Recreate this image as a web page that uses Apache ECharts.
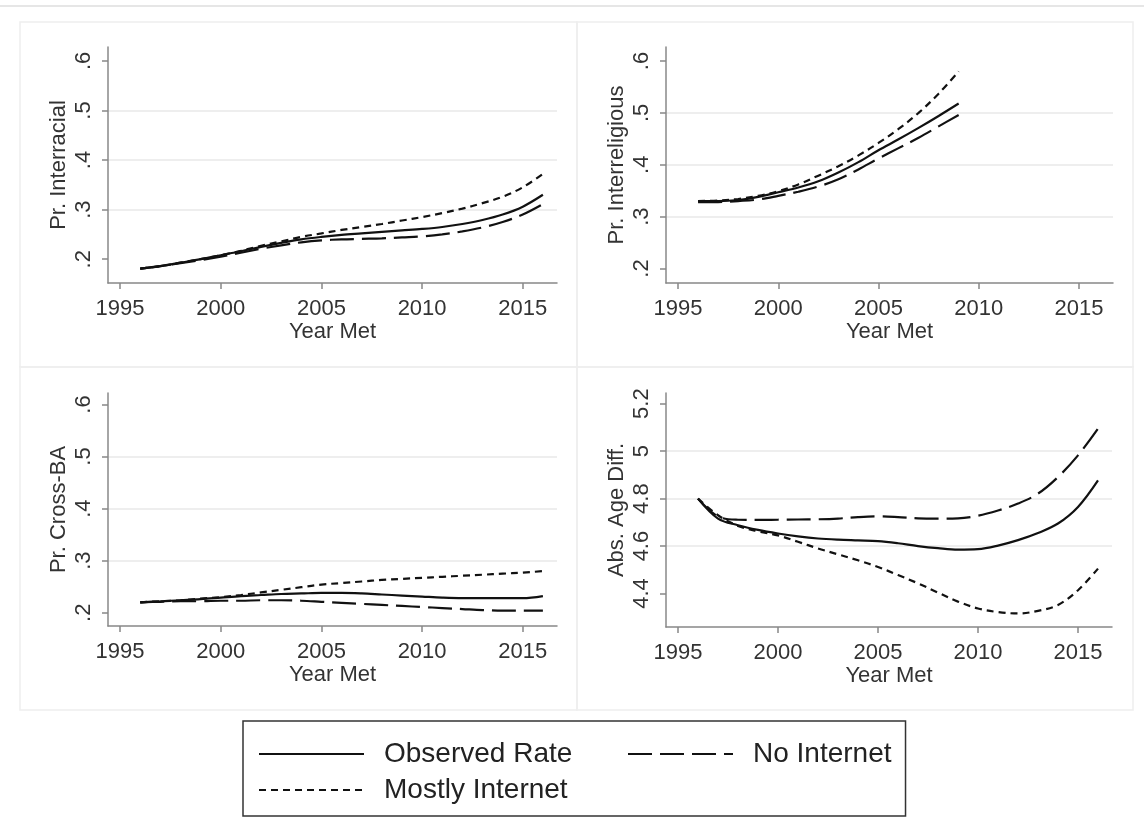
<!DOCTYPE html>
<html>
<head>
<meta charset="utf-8">
<script src="https://cdn.jsdelivr.net/npm/echarts@6/dist/echarts.min.js"></script>
<style>
  html, body { margin: 0; background: #fff; }
  #chart { width: 1144px; height: 840px; }
</style>
</head>
<body>
<div id="chart"></div>
<script>
// years met
const years = [1996, 1997, 1998, 1999, 2000, 2001, 2002, 2003, 2004, 2005, 2006,
  2007, 2008, 2009, 2010, 2011, 2012, 2013, 2014, 2015, 2016]
const relYears = [1996, 1997, 1998, 1999, 2000, 2001, 2002, 2003, 2004, 2005, 2006, 2007, 2008, 2009]

// tick labels
const xTicks = [1995, 2000, 2005, 2010, 2015]
const rateTicks = [0.2, 0.3, 0.4, 0.5, 0.6]
const ageTicks = [4.4, 4.6, 4.8, 5, 5.2]

// Pr. Interracial
const raceObs = [0.181, 0.186, 0.193, 0.200, 0.208, 0.216, 0.225, 0.233, 0.240, 0.245, 0.249,
  0.252, 0.255, 0.258, 0.261, 0.265, 0.271, 0.279, 0.290, 0.306, 0.330]
const raceNoNet = [0.181, 0.186, 0.192, 0.198, 0.205, 0.213, 0.221, 0.228, 0.234, 0.238, 0.240,
  0.241, 0.242, 0.244, 0.246, 0.250, 0.256, 0.264, 0.275, 0.290, 0.311]
const raceMostNet = [0.181, 0.186, 0.193, 0.200, 0.208, 0.217, 0.227, 0.236, 0.245, 0.252, 0.259,
  0.265, 0.271, 0.278, 0.285, 0.293, 0.302, 0.313, 0.326, 0.345, 0.372]

// Pr. Interreligious
const relObs = [0.330, 0.330, 0.332, 0.338, 0.347, 0.356, 0.368, 0.385, 0.405, 0.428, 0.449, 0.471, 0.494, 0.518]
const relNoNet = [0.328, 0.328, 0.330, 0.333, 0.340, 0.348, 0.358, 0.372, 0.391, 0.412, 0.432, 0.452, 0.474, 0.496]
const relMostNet = [0.330, 0.331, 0.334, 0.340, 0.349, 0.362, 0.379, 0.397, 0.418, 0.442, 0.469, 0.500, 0.537, 0.580]

// Pr. Cross-BA
const baObs = [0.220, 0.222, 0.224, 0.226, 0.229, 0.232, 0.234, 0.236, 0.237, 0.238, 0.238,
  0.237, 0.235, 0.233, 0.231, 0.229, 0.228, 0.228, 0.228, 0.228, 0.232]
const baNoNet = [0.220, 0.221, 0.222, 0.222, 0.223, 0.223, 0.224, 0.224, 0.223, 0.221, 0.219,
  0.217, 0.215, 0.213, 0.211, 0.209, 0.207, 0.205, 0.204, 0.204, 0.204]
const baMostNet = [0.220, 0.222, 0.224, 0.227, 0.230, 0.234, 0.239, 0.244, 0.249, 0.254, 0.257,
  0.260, 0.263, 0.265, 0.267, 0.269, 0.271, 0.273, 0.275, 0.277, 0.280]

// Abs. Age Diff.
const ageObs = [4.800, 4.716, 4.688, 4.668, 4.653, 4.641, 4.632, 4.627, 4.624, 4.621, 4.612,
  4.600, 4.591, 4.585, 4.587, 4.602, 4.625, 4.655, 4.695, 4.765, 4.877]
const ageNoNet = [4.800, 4.725, 4.711, 4.710, 4.711, 4.712, 4.713, 4.716, 4.722, 4.725, 4.722,
  4.717, 4.716, 4.717, 4.728, 4.750, 4.779, 4.821, 4.891, 4.982, 5.095]
const ageMostNet = [4.800, 4.730, 4.685, 4.662, 4.645, 4.618, 4.590, 4.565, 4.540, 4.512, 4.478,
  4.443, 4.404, 4.366, 4.337, 4.322, 4.316, 4.327, 4.352, 4.414, 4.505]

const font = 'Liberation Sans'
const ink = '#111'
const styles = {
  'Observed Rate': 'solid',
  'No Internet': [24, 8],
  'Mostly Internet': [7, 5]
}

const panels = [
  { box: { left: 108, top: 47, width: 449, height: 236 }, min: 0.152, max: 0.628, ticks: rateTicks,
    title: 'Pr. Interracial', x: years, lines: [raceObs, raceNoNet, raceMostNet] },
  { box: { left: 666, top: 47, width: 447, height: 236 }, min: 0.172, max: 0.627, ticks: rateTicks,
    title: 'Pr. Interreligious', x: relYears, lines: [relObs, relNoNet, relMostNet] },
  { box: { left: 108, top: 393, width: 449, height: 233 }, min: 0.1745, max: 0.622, ticks: rateTicks,
    title: 'Pr. Cross-BA', x: years, lines: [baObs, baNoNet, baMostNet] },
  { box: { left: 666, top: 393, width: 446, height: 234 }, min: 4.259, max: 5.245, ticks: ageTicks,
    title: 'Abs. Age Diff.', x: years, lines: [ageObs, ageNoNet, ageMostNet] }
]
const names = ['Observed Rate', 'No Internet', 'Mostly Internet']

const grid = []
const xAxis = []
const yAxis = []
const series = []

panels.forEach((p, i) => {
  grid.push(p.box)
  xAxis.push({
    gridIndex: i,
    type: 'value',
    min: 1994.4,
    max: 2016.7,
    axisLine: { onZero: false, lineStyle: { color: '#888', width: 1.5 } },
    axisTick: { length: 6, customValues: xTicks, lineStyle: { color: '#888', width: 1.5 } },
    axisLabel: {
      customValues: xTicks,
      formatter: v => String(v),
      margin: 15,
      fontFamily: font,
      fontSize: 22,
      color: '#333'
    },
    splitLine: { show: false },
    name: 'Year Met',
    nameLocation: 'middle',
    nameGap: 37,
    nameTextStyle: { fontFamily: font, fontSize: 22, color: '#333' }
  })
  yAxis.push({
    gridIndex: i,
    type: 'value',
    min: p.min,
    max: p.max,
    axisLine: { show: true, onZero: false, lineStyle: { color: '#888', width: 1.5 } },
    axisTick: { show: true, length: 6, customValues: p.ticks, lineStyle: { color: '#888', width: 1.5 } },
    axisLabel: {
      customValues: p.ticks,
      rotate: 90,
      margin: 13,
      formatter: v => String(v).replace(/^0\./, '.'),
      fontFamily: font,
      fontSize: 22,
      color: '#333'
    },
    splitLine: {
      show: true,
      showMinLine: false,
      showMaxLine: false,
      lineStyle: { color: '#e8e8e8', width: 1.5 }
    },
    name: p.title,
    nameLocation: 'middle',
    nameRotate: 90,
    nameGap: 38,
    nameTextStyle: { fontFamily: font, fontSize: 22, color: '#333' }
  })
  p.lines.forEach((vals, k) => {
    series.push({
      name: names[k],
      type: 'line',
      xAxisIndex: i,
      yAxisIndex: i,
      symbol: 'none',
      smooth: 0.35,
      silent: true,
      data: vals.map((v, j) => [p.x[j], v]),
      itemStyle: { color: ink },
      lineStyle: { color: ink, width: 2.2, type: styles[names[k]] }
    })
  })
})

const chart = echarts.init(document.getElementById('chart'))
chart.setOption({
  animation: false,
  backgroundColor: '#fff',
  grid,
  xAxis,
  yAxis,
  series,
  legend: {
    left: 243,
    top: 721,
    width: 700,
    orient: 'horizontal',
    selectedMode: false,
    padding: [19, 14, 12, 15],
    borderColor: '#333',
    borderWidth: 1.5,
    itemWidth: 105,
    itemHeight: 14,
    itemGap: 8,
    itemStyle: { opacity: 0 },
    textStyle: { fontFamily: font, fontSize: 28, color: '#222', lineHeight: 24, padding: [0, 0, 0, 15] },
    data: [
      { name: 'Observed Rate', textStyle: { width: 235 } },
      { name: 'No Internet' },
      { name: 'Mostly Internet' }
    ]
  },
  graphic: [
    { type: 'line', shape: { x1: 0, y1: 6, x2: 1144, y2: 6 }, style: { stroke: '#e6e6e6', lineWidth: 2 } },
    { type: 'rect', shape: { x: 20, y: 22, width: 557, height: 345 }, style: { fill: 'none', stroke: '#eeeeee', lineWidth: 1.5 } },
    { type: 'rect', shape: { x: 577, y: 22, width: 556, height: 345 }, style: { fill: 'none', stroke: '#eeeeee', lineWidth: 1.5 } },
    { type: 'rect', shape: { x: 20, y: 367, width: 557, height: 343 }, style: { fill: 'none', stroke: '#eeeeee', lineWidth: 1.5 } },
    { type: 'rect', shape: { x: 577, y: 367, width: 556, height: 343 }, style: { fill: 'none', stroke: '#eeeeee', lineWidth: 1.5 } }
  ]
})
</script>
</body>
</html>
